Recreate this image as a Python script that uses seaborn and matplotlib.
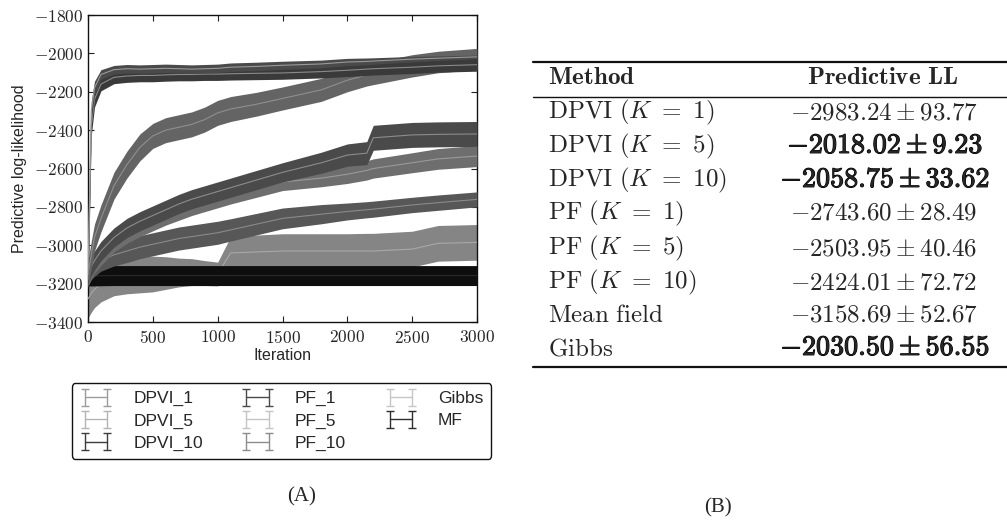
import numpy as np
import pandas as pd
import matplotlib
matplotlib.use("Agg")
import matplotlib.pyplot as plt
import matplotlib.patheffects as pe
from matplotlib.lines import Line2D
import seaborn as sns

# ---------------- data ----------------
ITER = [0, 25, 50, 100, 200, 300, 400, 500, 600, 700, 800, 900, 1000,
        1100, 1300, 1500, 1800, 2000, 2150, 2200, 2500, 2700, 3000]

DPVI_1_MEAN = [-3280, -3250, -3230, -3200, -3170, -3160, -3155, -3150, -3145, -3142, -3140, -3145, -3150,
               -3040, -3035, -3030, -3030, -3030, -3030, -3030, -3020, -2990, -2985]
DPVI_1_ERR = [100, 100, 95, 95, 93, 93, 93, 93, 85, 75, 70, 65, 62,
              85, 88, 90, 90, 90, 92, 92, 93, 93, 93]

DPVI_5_MEAN = [-3150, -2300, -2180, -2110, -2085, -2080, -2082, -2080, -2078, -2080, -2082, -2080, -2078,
               -2072, -2068, -2062, -2055, -2045, -2042, -2040, -2030, -2025, -2018]
DPVI_5_ERR = [60, 50, 35, 25, 22, 22, 22, 22, 22, 22, 22, 22, 22,
              22, 22, 21, 20, 19, 18, 17, 14, 12, 9]

DPVI_10_MEAN = [-3180, -2380, -2240, -2160, -2125, -2118, -2115, -2115, -2112, -2110, -2110, -2108, -2108,
                -2106, -2104, -2102, -2095, -2088, -2082, -2080, -2072, -2065, -2059]
DPVI_10_ERR = [60, 50, 40, 35, 33, 33, 33, 33, 33, 33, 33, 33, 33,
               33, 33, 33, 33, 33, 33, 33, 33, 33, 34]

PF_1_MEAN = [-3160, -3130, -3110, -3080, -3050, -3030, -3010, -2995, -2980, -2965, -2955, -2945, -2935,
             -2920, -2890, -2860, -2838, -2824, -2815, -2812, -2790, -2778, -2761]
PF_1_ERR = [50, 50, 52, 55, 58, 60, 60, 60, 60, 60, 60, 60, 60,
            58, 56, 54, 50, 44, 42, 42, 40, 40, 39]

PF_5_MEAN = [-3170, -3130, -3100, -3060, -2990, -2945, -2910, -2880, -2850, -2825, -2800, -2780, -2760,
             -2740, -2705, -2670, -2650, -2630, -2610, -2600, -2570, -2550, -2535]
PF_5_ERR = [45, 45, 45, 45, 45, 45, 45, 45, 45, 45, 45, 45, 45,
            45, 45, 45, 45, 48, 50, 50, 52, 54, 55]

PF_10_MEAN = [-3150, -3110, -3080, -3030, -2960, -2910, -2875, -2845, -2815, -2785, -2760, -2740, -2720,
              -2700, -2660, -2620, -2570, -2530, -2520, -2440, -2425, -2422, -2420]
PF_10_ERR = [50, 50, 50, 50, 50, 50, 50, 50, 50, 50, 50, 50, 50,
             50, 50, 50, 55, 58, 60, 65, 65, 65, 65]

GIBBS_MEAN = [-3150, -3050, -2960, -2860, -2690, -2580, -2490, -2430, -2400, -2385, -2370, -2345, -2310,
              -2290, -2265, -2235, -2190, -2140, -2112, -2105, -2065, -2045, -2030]
GIBBS_ERR = [70, 70, 70, 70, 70, 70, 70, 65, 65, 65, 65, 65, 65,
             65, 62, 60, 60, 60, 58, 58, 58, 56, 56]

MF_MEAN = [-3160, -3160, -3160, -3159, -3158, -3158, -3158, -3158, -3158, -3158, -3158, -3158, -3158,
           -3158, -3158, -3158, -3158, -3158, -3158, -3158, -3158, -3158, -3158]
MF_ERR = [52, 52, 52, 52, 52, 52, 52, 52, 52, 52, 52, 52, 52,
          52, 52, 52, 52, 52, 52, 52, 52, 52, 52]

LEGEND_ORDER = ["DPVI_1", "DPVI_5", "DPVI_10", "PF_1", "PF_5", "PF_10", "Gibbs", "MF"]
DRAW_ORDER = ["DPVI_1", "MF", "PF_1", "PF_5", "PF_10", "Gibbs", "DPVI_10", "DPVI_5"]

YTICKS = [-3400, -3200, -3000, -2800, -2600, -2400, -2200, -2000, -1800]
XTICKS = [0, 500, 1000, 1500, 2000, 2500, 3000]

TABLE_METHOD = ["DPVI", "DPVI", "DPVI", "PF", "PF", "PF", "Mean field", "Gibbs"]
TABLE_K = [1, 5, 10, 1, 5, 10, None, None]
TABLE_MEAN = [-2983.24, -2018.02, -2058.75, -2743.60, -2503.95, -2424.01, -3158.69, -2030.50]
TABLE_STD = [93.77, 9.23, 33.62, 28.49, 40.46, 72.72, 52.67, 56.55]
TABLE_BOLD = [False, True, True, False, False, False, False, True]

# ---------------- styling ----------------
sns.set_style("ticks")
plt.rcParams["font.family"] = ["Liberation Sans", "DejaVu Sans"]
plt.rcParams["mathtext.fontset"] = "cm"

band_col = {"DPVI_1": "#858585", "DPVI_5": "#4a4a4a", "DPVI_10": "#3a3a3a",
            "PF_1": "#575757", "PF_5": "#6e6e6e", "PF_10": "#4a4a4a",
            "Gibbs": "#646464", "MF": "#0e0e0e"}
line_col = {"DPVI_1": "#a8a8a8", "DPVI_5": "#9a9a9a", "DPVI_10": "#8a8a8a",
            "PF_1": "#8a8a8a", "PF_5": "#9a9a9a", "PF_10": "#8c8c8c",
            "Gibbs": "#8f8f8f", "MF": "#2a2a2a"}
leg_col = {"DPVI_1": "#9c9c9c", "DPVI_5": "#b4b4b4", "DPVI_10": "#3c3c3c",
           "PF_1": "#4a4a4a", "PF_5": "#c4c4c4", "PF_10": "#8c8c8c",
           "Gibbs": "#c6c6c6", "MF": "#2e2e2e"}

means = {"DPVI_1": DPVI_1_MEAN, "DPVI_5": DPVI_5_MEAN, "DPVI_10": DPVI_10_MEAN,
         "PF_1": PF_1_MEAN, "PF_5": PF_5_MEAN, "PF_10": PF_10_MEAN,
         "Gibbs": GIBBS_MEAN, "MF": MF_MEAN}
errs = {"DPVI_1": DPVI_1_ERR, "DPVI_5": DPVI_5_ERR, "DPVI_10": DPVI_10_ERR,
        "PF_1": PF_1_ERR, "PF_5": PF_5_ERR, "PF_10": PF_10_ERR,
        "Gibbs": GIBBS_ERR, "MF": MF_ERR}

rows = []
for name in LEGEND_ORDER:
    for it, m, e in zip(ITER, means[name], errs[name]):
        rows.append({"iteration": it, "ll": m, "err": e, "method": name})
df = pd.DataFrame(rows)

fig = plt.figure(figsize=(10.07, 5.27), dpi=100)
W, H = 1007, 527
ax = fig.add_axes([88 / W, 1 - 322 / H, 389 / W, 307 / H])

for z, name in enumerate(DRAW_ORDER):
    sub = df[df["method"] == name]
    ax.fill_between(sub["iteration"], sub["ll"] - sub["err"], sub["ll"] + sub["err"],
                    color=band_col[name], linewidth=0, zorder=2 + 2 * z)
    sns.lineplot(data=sub, x="iteration", y="ll", color=line_col[name], lw=0.8,
                 ax=ax, legend=False, errorbar=None, zorder=3 + 2 * z)

# legend proxies (errorbar glyphs)
handles = []
for name in LEGEND_ORDER:
    h = ax.errorbar([np.nan], [np.nan], yerr=[1], color=leg_col[name], lw=1.0,
                    elinewidth=1.0, capsize=3, capthick=1.0, label=name)
    handles.append(h)

ax.set_xlim(0, 3000)
ax.set_ylim(-3400, -1800)
ax.set_xticks(XTICKS)
ax.set_xticklabels([f"${t}$" for t in XTICKS], fontsize=12.5)
ax.set_yticks(YTICKS)
ax.set_yticklabels([f"${t}$" for t in YTICKS], fontsize=12.5)
ax.tick_params(direction="in", top=True, right=True, length=4, width=0.8, color="#222222")
ax.tick_params(axis="y", pad=3)
ax.tick_params(axis="x", pad=5)
for s in ax.spines.values():
    s.set_visible(True)
    s.set_linewidth(1.0)
    s.set_color("#111111")
ax.set_xlabel("Iteration", fontsize=11.5)
ax.set_ylabel("Predictive log-likelihood", fontsize=11.5)
ax.yaxis.set_label_coords(-0.157, 0.5)
ax.xaxis.set_label_coords(0.5, -0.085)

leg = fig.legend(handles=handles, labels=LEGEND_ORDER, loc="center",
                 bbox_to_anchor=(281.5 / W, 1 - 421 / H), ncol=3, numpoints=2,
                 fontsize=12.5, handlelength=1.9, handletextpad=1.2, columnspacing=2.2,
                 labelspacing=0.4, fancybox=True, frameon=True, borderpad=0.45)
leg.get_frame().set_edgecolor("#111111")
leg.get_frame().set_linewidth(1.0)
leg.get_frame().set_alpha(1)

fig.text(302 / W, 1 - 497 / H, "(A)", fontsize=15, ha="center", va="center",
         family="Liberation Serif")
fig.text(718 / W, 1 - 508 / H, "(B)", fontsize=15, ha="center", va="center",
         family="Liberation Serif")

# ---------------- table (B) ----------------
def fy(py):
    return 1 - py / H

fig.add_artist(Line2D([533 / W, 1.0], [fy(62), fy(62)], color="#111111", lw=1.6))
fig.add_artist(Line2D([533 / W, 1.0], [fy(97), fy(97)], color="#111111", lw=1.0))
fig.add_artist(Line2D([533 / W, 1.0], [fy(367), fy(367)], color="#111111", lw=1.6))

TFS = 18
bold_fx = [pe.Stroke(linewidth=0.8, foreground="black"), pe.Normal()]
fig.text(548 / W, fy(77), r"$\mathbf{Method}$", fontsize=TFS, ha="left", va="center")
fig.text(883 / W, fy(77), r"$\mathbf{Predictive\ LL}$", fontsize=TFS, ha="center", va="center")

row_y = [112, 146, 180, 213, 248, 282, 315, 348]
for i in range(len(TABLE_METHOD)):
    meth = TABLE_METHOD[i].replace(" ", r"\ ")
    if TABLE_K[i] is not None:
        s1 = r"$\mathrm{" + meth + r"}\ (K\ =\ " + str(TABLE_K[i]) + ")$"
    else:
        s1 = r"$\mathrm{" + meth + "}$"
    fig.text(548 / W, fy(row_y[i]), s1, fontsize=TFS, ha="left", va="center")
    val = "$" + f"{TABLE_MEAN[i]:.2f}" + r" \pm " + f"{TABLE_STD[i]:.2f}" + "$"
    if TABLE_BOLD[i]:
        fig.text(885 / W, fy(row_y[i]), val, fontsize=TFS + 2.2, ha="center", va="center",
                 path_effects=bold_fx)
    else:
        fig.text(884 / W, fy(row_y[i]), val, fontsize=TFS, ha="center", va="center")

fig.savefig("out.png", dpi=100)
